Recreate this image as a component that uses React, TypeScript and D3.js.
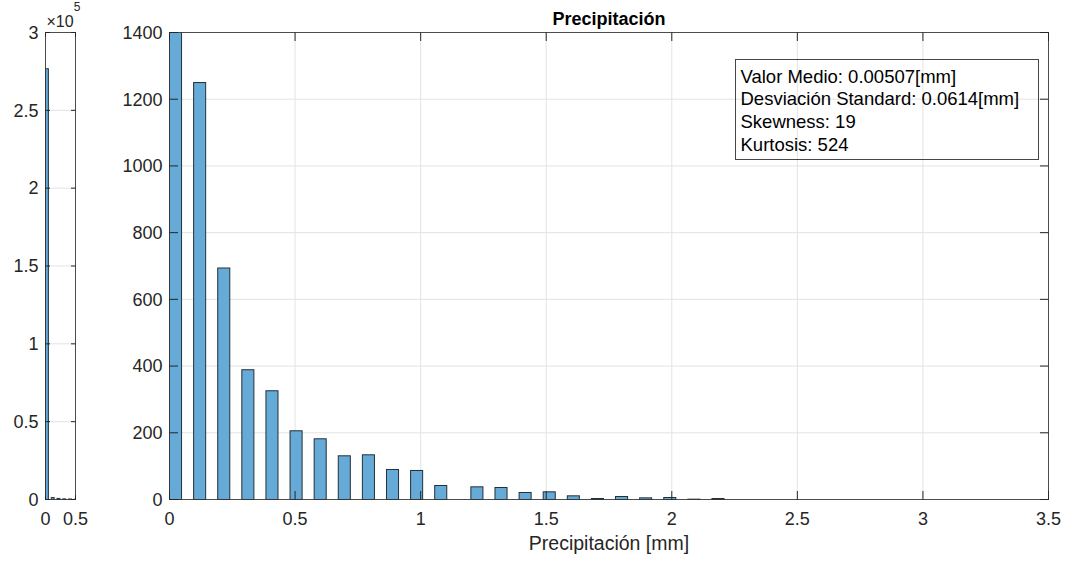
import React from 'react';
import * as d3 from 'd3';

// ---- data ----
const precipitation = [0, 0.1, 0.2, 0.3, 0.4, 0.5, 0.6, 0.7, 0.8, 0.9, 1.0, 1.1, 1.2, 1.3, 1.4, 1.5, 1.6, 1.7, 1.8, 1.9, 2.0, 2.1, 2.2];
const counts = [276700, 1250, 694, 389, 326, 206, 182, 131, 134, 90, 87, 42, 38, 36, 21, 23, 11, 3, 9, 5, 6, 1, 3];
const binWidth = 0.048;

const mainXTicks = [0, 0.5, 1, 1.5, 2, 2.5, 3, 3.5];
const mainYTicks = [0, 200, 400, 600, 800, 1000, 1200, 1400];
const insetXTicks = [0, 0.5];
const insetYTicks = [0, 0.5, 1, 1.5, 2, 2.5, 3]; // × 10^5
const insetExponent = 5;

const titleText = 'Precipitación';
const xLabelText = 'Precipitación [mm]';
const statsLines = [
  'Valor Medio: 0.00507[mm]',
  'Desviación Standard: 0.0614[mm]',
  'Skewness: 19',
  'Kurtosis: 524',
];

// ---- styles ----
const FONT = '"Liberation Sans", Arial, Helvetica, sans-serif';
const AXIS = '#262626';
const GRID = '#e3e3e3';
const BAR_FILL = '#66aad7';
const BAR_STROKE = '#22303a';

const bins = precipitation.map((v, i) => {
  const idx = Math.floor(v / binWidth + 1e-9);
  return { x0: idx * binWidth, x1: (idx + 1) * binWidth, count: counts[i] };
});

const fmt = (v: number) => String(v);

type AxProps = {
  left: number; right: number; top: number; bottom: number;
  xDomain: [number, number]; yDomain: [number, number];
  xTicks: number[]; yTicks: number[]; yScaleFactor: number;
  tickLen: number; clipId: string;
};

function Axes(p: AxProps) {
  const x = d3.scaleLinear().domain(p.xDomain).range([p.left, p.right]);
  const y = d3.scaleLinear().domain(p.yDomain).range([p.bottom, p.top]);
  const w = p.right - p.left;
  const h = p.bottom - p.top;
  return (
    <g>
      <defs>
        <clipPath id={p.clipId}>
          <rect x={p.left} y={p.top} width={w} height={h} />
        </clipPath>
      </defs>
      {p.xTicks.map((t) => (
        <line key={'gx' + t} x1={x(t)} x2={x(t)} y1={p.top} y2={p.bottom} stroke={GRID} strokeWidth={1} />
      ))}
      {p.yTicks.map((t) => (
        <line key={'gy' + t} x1={p.left} x2={p.right} y1={y(t * p.yScaleFactor)} y2={y(t * p.yScaleFactor)} stroke={GRID} strokeWidth={1} />
      ))}
      <g clipPath={`url(#${p.clipId})`}>
        {bins.map((b, i) => (
          <rect
            key={i}
            x={x(b.x0)}
            y={y(b.count)}
            width={x(b.x1) - x(b.x0)}
            height={y(0) - y(b.count)}
            fill={BAR_FILL}
            stroke={BAR_STROKE}
            strokeWidth={1}
          />
        ))}
      </g>
      <rect x={p.left} y={p.top} width={w} height={h} fill="none" stroke={AXIS} strokeOpacity={0.8} strokeWidth={1} />
      {p.xTicks.map((t) => (
        <g key={'tx' + t}>
          <line x1={x(t)} x2={x(t)} y1={p.bottom} y2={p.bottom - p.tickLen} stroke={AXIS} />
          <line x1={x(t)} x2={x(t)} y1={p.top} y2={p.top + p.tickLen} stroke={AXIS} />
          <text x={x(t)} y={525} textAnchor="middle" fontSize={18} fill={AXIS} fontFamily={FONT}>{fmt(t)}</text>
        </g>
      ))}
      {p.yTicks.map((t) => (
        <g key={'ty' + t}>
          <line x1={p.left} x2={p.left + p.tickLen} y1={y(t * p.yScaleFactor)} y2={y(t * p.yScaleFactor)} stroke={AXIS} />
          <line x1={p.right} x2={p.right - p.tickLen} y1={y(t * p.yScaleFactor)} y2={y(t * p.yScaleFactor)} stroke={AXIS} />
          <text x={p.left - 7} y={y(t * p.yScaleFactor)} dy="0.35em" textAnchor="end" fontSize={18} fill={AXIS} fontFamily={FONT}>{fmt(t)}</text>
        </g>
      ))}
    </g>
  );
}

export default function App() {
  const main = { left: 169.5, right: 1048.5, top: 32.5, bottom: 499.5 };
  const inset = { left: 45.5, right: 75.5, top: 32.5, bottom: 499.5 };
  return (
    <svg width={1069} height={561} style={{ position: 'absolute', left: 0, top: 0, background: '#fff' }} fontFamily={FONT}>
      <rect x={0} y={0} width={1069} height={561} fill="#fff" />
      <Axes
        {...inset}
        xDomain={[0, 0.5]}
        yDomain={[0, 3 * Math.pow(10, insetExponent)]}
        xTicks={insetXTicks}
        yTicks={insetYTicks}
        yScaleFactor={Math.pow(10, insetExponent)}
        tickLen={4.5}
        clipId="clipInset"
      />
      <text x={46.5} y={27.3} fontSize={16} fill={AXIS}>
        ×10
        <tspan fontSize={12} dy={-16.5}>{insetExponent}</tspan>
      </text>
      <Axes
        {...main}
        xDomain={[0, 3.5]}
        yDomain={[0, 1400]}
        xTicks={mainXTicks}
        yTicks={mainYTicks}
        yScaleFactor={1}
        tickLen={8.5}
        clipId="clipMain"
      />
      <text x={(main.left + main.right) / 2} y={25} textAnchor="middle" fontSize={18} fontWeight="bold" fill="#000">{titleText}</text>
      <text x={(main.left + main.right) / 2} y={549.5} textAnchor="middle" fontSize={19.5} fill={AXIS}>{xLabelText}</text>
      <rect x={735.5} y={59.5} width={303} height={100} fill="none" stroke={AXIS} strokeOpacity={0.85} strokeWidth={1} />
      {statsLines.map((s, i) => (
        <text key={i} x={740.5} y={82.5 + i * 22.8} fontSize={18.5} fill="#000">{s}</text>
      ))}
    </svg>
  );
}
